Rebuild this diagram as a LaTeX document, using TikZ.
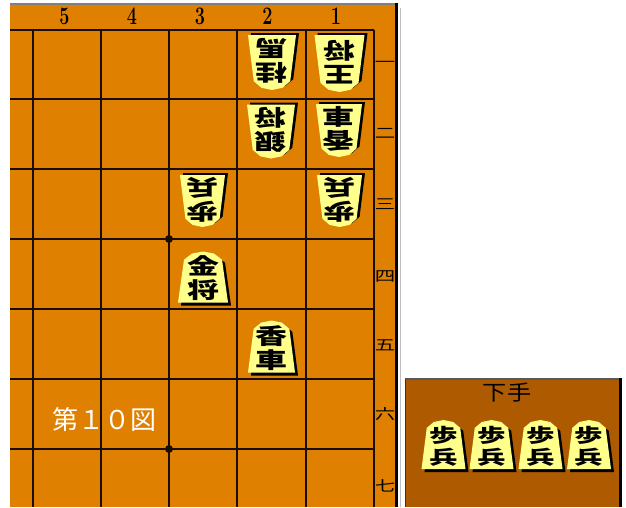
\documentclass[tikz,border=0pt]{standalone}
\usepackage{fontspec}
\newfontfamily\jp{Noto Sans CJK JP}
\definecolor{ban}{HTML}{E08000}
\definecolor{dai}{HTML}{AE5A00}
\definecolor{komacol}{HTML}{FFFF8C}
\definecolor{gridcol}{HTML}{1A0D00}
\tikzset{
  gridline/.style={line width=1.7pt, draw=gridcol},
  komatext/.style={font=\jp\bfseries\fontsize{22}{24}\selectfont, align=center, xscale=1.45, inner sep=0pt},
  handtext/.style={font=\jp\bfseries\fontsize{19}{22}\selectfont, align=center, xscale=1.5, inner sep=0pt},
  filelabel/.style={font=\bfseries\fontsize{18}{18}\selectfont, yscale=1.4, inner sep=0pt},
  ranklabel/.style={font=\jp\fontsize{17}{17}\selectfont, xscale=1.2, yscale=0.85, inner sep=0pt},
}
% upright (sente) piece: name, x, y, w, h, text, style
\newcommand\sentekoma[7]{%
  \begin{scope}[shift={(#2+3,#3+3)}]
    \fill[black] (0,-0.5*#5) -- (0.22*#4,-0.46*#5) -- (0.38*#4,-0.34*#5) -- (0.5*#4,0.5*#5) -- (-0.5*#4,0.5*#5) -- (-0.38*#4,-0.34*#5) -- (-0.22*#4,-0.46*#5) -- cycle;
  \end{scope}
  \begin{scope}[shift={(#2,#3)}]
    \fill[komacol] (0,-0.5*#5) -- (0.22*#4,-0.46*#5) -- (0.38*#4,-0.34*#5) -- (0.5*#4,0.5*#5) -- (-0.5*#4,0.5*#5) -- (-0.38*#4,-0.34*#5) -- (-0.22*#4,-0.46*#5) -- cycle;
  \end{scope}
  \node[#7] (#1) at (#2,#3+1.5) {#6};
}
% inverted (gote) piece
\newcommand\gotekoma[6]{%
  \begin{scope}[shift={(#2+3,#3-2)}]
    \fill[black] (0,0.5*#5) -- (0.22*#4,0.46*#5) -- (0.38*#4,0.34*#5) -- (0.5*#4,-0.5*#5) -- (-0.5*#4,-0.5*#5) -- (-0.38*#4,0.34*#5) -- (-0.22*#4,0.46*#5) -- cycle;
  \end{scope}
  \begin{scope}[shift={(#2,#3)}]
    \fill[komacol] (0,0.5*#5) -- (0.22*#4,0.46*#5) -- (0.38*#4,0.34*#5) -- (0.5*#4,-0.5*#5) -- (-0.5*#4,-0.5*#5) -- (-0.38*#4,0.34*#5) -- (-0.22*#4,0.46*#5) -- cycle;
  \end{scope}
  \node[komatext, rotate=180] (#1) at (#2,#3-1.5) {#6};
}
\begin{document}
\begin{tikzpicture}[x=1pt,y=-1pt]
\useasboundingbox (0,0) rectangle (626,507);
\fill[white] (0,0) rectangle (626,507);
% board
\fill[ban] (10,4) rectangle (394.5,507);
\draw[gray, line width=1.2pt] (10,4) -- (395,4);
\draw[black, line width=3pt] (396,3) -- (396,507);
\draw[gray!50, line width=0.8pt] (400,8) -- (400,507);
% grid
\foreach \y in {30,99,169,239,309,379,449} \draw[gridline] (10,\y) -- (374,\y);
\foreach \x in {33,101,169,237,306,374} \draw[gridline] (\x,30) -- (\x,507);
\fill[gridcol] (169,239) circle[radius=4pt];
\fill[gridcol] (169,449) circle[radius=4pt];
% file numbers
\node[filelabel] (f5) at (64.5,16.5) {5};
\node[filelabel] (f4) at (132,16.5) {4};
\node[filelabel] (f3) at (200,16.5) {3};
\node[filelabel] (f2) at (267.5,16.5) {2};
\node[filelabel] (f1) at (336,16.5) {1};
% rank numbers
\node[ranklabel] (r1) at (385,64) {一};
\node[ranklabel] (r2) at (385,133) {二};
\node[ranklabel] (r3) at (385,204) {三};
\node[ranklabel] (r4) at (385,276) {四};
\node[ranklabel] (r5) at (385,345) {五};
\node[ranklabel] (r6) at (385,414) {六};
\node[ranklabel] (r7) at (385,486) {七};
% gote pieces
\gotekoma{g11}{339.5}{63.5}{50}{57}{王\\将}
\gotekoma{g21}{272}{62.5}{48}{55}{桂\\馬}
\gotekoma{g22}{271}{131.5}{48}{54}{銀\\将}
\gotekoma{g12}{339}{130.5}{46}{53}{香\\車}
\gotekoma{g33}{202.5}{201}{45}{52}{歩\\兵}
\gotekoma{g13}{339.5}{201}{45}{52}{歩\\兵}
% sente pieces
\sentekoma{s34}{203}{277}{50}{51}{金\\将}{komatext}
\sentekoma{s25}{271.5}{346.5}{47}{52}{香\\車}{komatext}
% title
\node[font=\jp\fontsize{26}{26}\selectfont, text=white, inner sep=0pt] (title) at (104.5,420) {第１０図};
% komadai
\fill[dai] (405,379) rectangle (619,507);
\draw[gray!70!black, line width=1.2pt] (405,379) -- (620,379);
\draw[black!80, line width=1pt] (405.5,379) -- (405.5,507);
\draw[black, line width=3pt] (620.5,378) -- (620.5,507);
\node[font=\jp\fontsize{21}{21}\selectfont, xscale=1.15, inner sep=0pt] (sente) at (507,393) {下手};
\sentekoma{h1}{443.5}{444.5}{44}{49}{歩\\兵}{handtext}
\sentekoma{h2}{491.5}{444.5}{44}{49}{歩\\兵}{handtext}
\sentekoma{h3}{540.5}{444.5}{44}{49}{歩\\兵}{handtext}
\sentekoma{h4}{589}{444.5}{44}{49}{歩\\兵}{handtext}
\end{tikzpicture}
\end{document}
